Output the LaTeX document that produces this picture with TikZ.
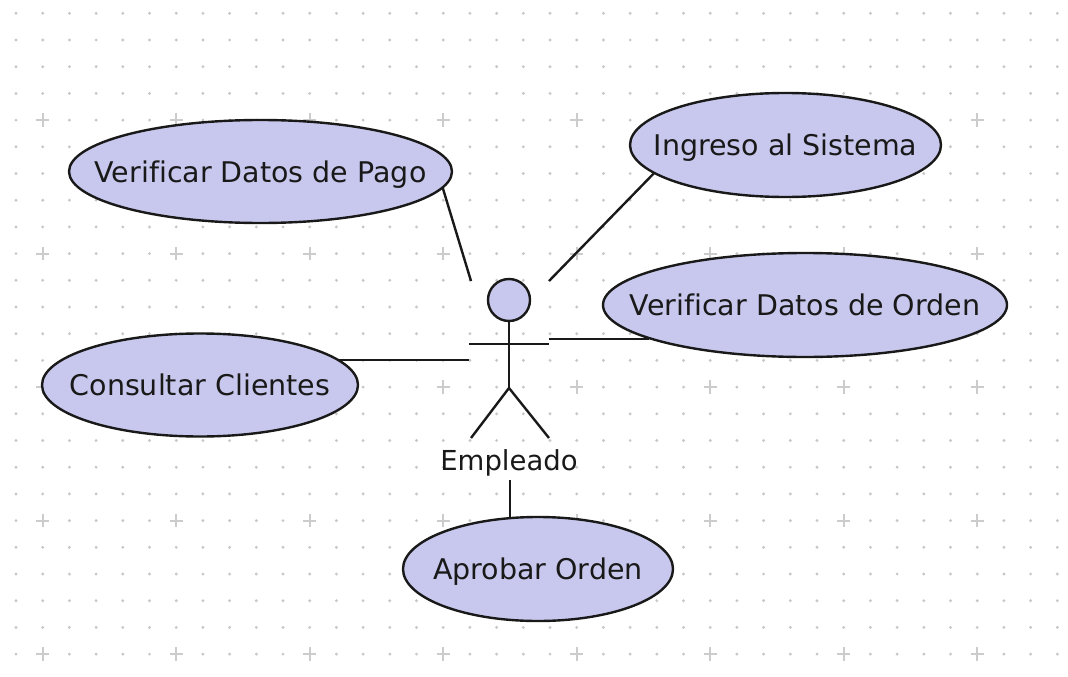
\documentclass[tikz,border=0pt]{standalone}
\usepackage{fontspec}
\setmainfont[Ligatures=NoCommon]{DejaVu Sans}
\usetikzlibrary{shapes.geometric}
\definecolor{ucfill}{RGB}{200,200,238}
\definecolor{ink}{RGB}{25,25,25}
\tikzset{
  usecase/.style={ellipse,draw=ink,fill=ucfill,line width=2.4pt,inner sep=0pt,outer sep=0pt,text height=21pt,text depth=0pt,font=\fontsize{28.5}{28.5}\selectfont,text=ink},
  link/.style={draw=ink,line width=2.4pt},
  griddot/.style={fill=black!22,draw=none},
  gridplus/.style={draw=black!20,line width=2pt},
}
\newcommand{\uc}[1]{\makebox[0pt]{#1}}
\begin{document}
\begin{tikzpicture}[x=1pt,y=-1pt]
\useasboundingbox (0,0) rectangle (1068,677);
\foreach \i in {0,...,39}{\foreach \j in {0,...,24}{
  \pgfmathsetmacro{\px}{16+26.7*\i}\pgfmathsetmacro{\py}{13.3+26.7*\j}
  \fill[griddot] (\px,\py) circle[radius=1.6];
}}
\foreach \i in {0,...,7}{\foreach \j in {0,...,4}{
  \pgfmathsetmacro{\px}{42.7+133.5*\i}\pgfmathsetmacro{\py}{120+133.5*\j}
  \draw[gridplus] (\px-6.7,\py) -- (\px+6.7,\py) (\px,\py-6.7) -- (\px,\py+6.7);
}}
\node[usecase,minimum width=383pt,minimum height=103pt] (pago) at (260.5,171.5) {\uc{Verificar Datos de Pago}};
\node[usecase,minimum width=311pt,minimum height=104pt] (ingreso) at (785.5,145) {\uc{Ingreso al Sistema}};
\node[usecase,minimum width=404pt,minimum height=104pt] (orden) at (805,305) {\uc{Verificar Datos de Orden}};
\node[usecase,minimum width=316pt,minimum height=103pt] (clientes) at (200,385) {\uc{Consultar Clientes}};
\node[usecase,minimum width=270pt,minimum height=104pt] (aprobar) at (538,569) {\uc{Aprobar Orden}};
% actor
\node[circle,draw=ink,fill=ucfill,line width=2.4pt,minimum size=42pt,inner sep=0pt] (head) at (509,300) {};
\coordinate (hip) at (509,388);
\coordinate (armL) at (469,344);
\coordinate (armR) at (549,344);
\coordinate (footL) at (471,438);
\coordinate (footR) at (549,438);
\draw[link] (head) -- (hip);
\draw[link] (armL) -- (armR);
\draw[link] (footL) -- (hip) -- (footR);
\node[font=\fontsize{27.5}{27.5}\selectfont,text=ink,inner sep=0pt,anchor=base] (actor) at (509,470) {Empleado};
% connectors
\coordinate (e1) at (471,281);
\coordinate (e2) at (549,281);
\coordinate (e3) at (549,339);
\coordinate (e4) at (469,360);
\coordinate (e5) at (510,480);
\draw[link] (pago.-5.5) -- (e1);
\draw[link] (ingreso.192.6) -- (e2);
\draw[link] (orden.192.4 |- e3) -- (e3);
\draw[link] (clientes.10.3 |- e4) -- (e4);
\draw[link] (e5 |- aprobar.118.8) -- (e5);
\end{tikzpicture}
\end{document}
